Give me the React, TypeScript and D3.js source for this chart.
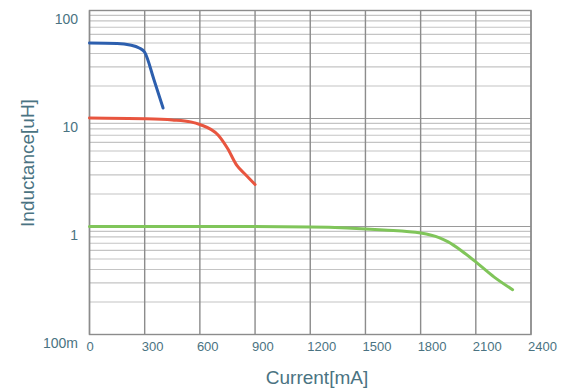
import React from "react";
import * as d3 from "d3";

const xTicks = [0, 300, 600, 900, 1200, 1500, 1800, 2100, 2400];
const yTicks = [100, 10, 1, 0.1];
const yTickLabels = ["100", "10", "1", "100m"];

const blueCurrent = [0, 150, 220, 270, 300, 350, 400];
const blueL = [50, 49.5, 48, 45, 41, 23, 12.5];

const redCurrent = [0, 300, 450, 550, 600, 700, 750, 800, 850, 900];
const redL = [10.1, 9.95, 9.7, 9.3, 8.8, 7.0, 5.3, 3.7, 3.0, 2.45];

const greenCurrent = [0, 800, 1200, 1400, 1600, 1800, 1900, 1950, 2020, 2100, 2200, 2300];
const greenL = [1.0, 1.0, 0.99, 0.97, 0.93, 0.87, 0.79, 0.72, 0.6, 0.47, 0.34, 0.26];

const series = [
  { x: blueCurrent, y: blueL, color: "#2d5fae" },
  { x: redCurrent, y: redL, color: "#e8553f" },
  { x: greenCurrent, y: greenL, color: "#80c55a" },
];

export default function App() {
  const W = 570, H = 389;
  const left = 89.5, right = 531, top = 10.5, bottom = 334.5;
  const x = d3.scaleLinear().domain([0, 2400]).range([left, right]);
  const y = d3.scaleLog().domain([0.1, 100]).range([bottom, top]);
  const minor: number[] = [];
  [0.1, 1, 10].forEach((d) => {
    for (let k = 2; k <= 9; k++) minor.push(d * k);
  });
  const line = d3
    .line<[number, number]>()
    .x((d) => x(d[0]))
    .y((d) => y(d[1]))
    .curve(d3.curveMonotoneX);
  const textColor = "#4a7382";
  return (
    <svg
      width={W}
      height={H}
      style={{ position: "absolute", left: 0, top: 0, background: "#fff" }}
      fontFamily="'Liberation Sans', Arial, sans-serif"
    >
      {minor.map((v) => (
        <line key={"m" + v} x1={left} x2={right} y1={y(v)} y2={y(v)} stroke="#c4c4c4" strokeWidth={1.2} />
      ))}
      {yTicks.map((v) => (
        <line key={"M" + v} x1={left} x2={right} y1={y(v)} y2={y(v)} stroke="#9a9a9a" strokeWidth={1.2} />
      ))}
      {xTicks.map((v) => (
        <line key={"v" + v} x1={x(v)} x2={x(v)} y1={top} y2={bottom} stroke="#8c8c8c" strokeWidth={1.4} />
      ))}
      <rect x={left} y={top} width={right - left} height={bottom - top} fill="none" stroke="#8c8c8c" strokeWidth={1.4} />
      {series.map((s, i) => (
        <path
          key={i}
          d={line(s.x.map((v, j) => [v, s.y[j]] as [number, number])) || ""}
          fill="none"
          stroke={s.color}
          strokeWidth={3}
          strokeLinecap="round"
          strokeLinejoin="round"
        />
      ))}
      {xTicks.map((v) => (
        <text key={"xt" + v} x={x(v) - 3} y={351} fontSize={13} fill={textColor} textAnchor="start">
          {v}
        </text>
      ))}
      {yTicks.map((v, i) => (
        <text key={"yt" + v} x={78} y={y(v) + 13} fontSize={14} fill={textColor} textAnchor="end">
          {yTickLabels[i]}
        </text>
      ))}
      <text x={317} y={384} fontSize={19} fill={textColor} textAnchor="middle">
        Current[mA]
      </text>
      <text
        transform="translate(34,163) rotate(-90)"
        fontSize={19}
        fill={textColor}
        textAnchor="middle"
      >
        Inductance[uH]
      </text>
    </svg>
  );
}
